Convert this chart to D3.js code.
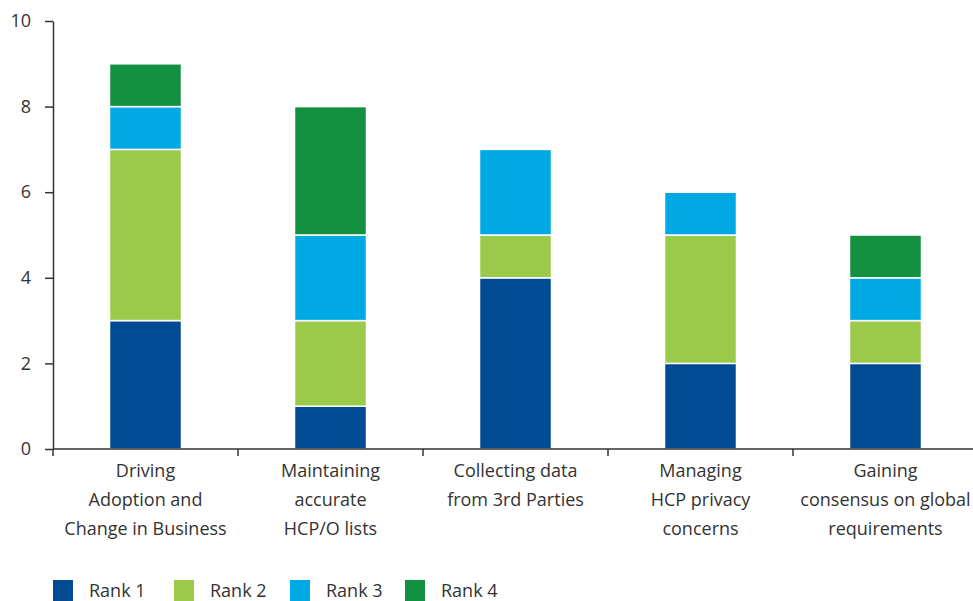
<!DOCTYPE html>
<html><head><meta charset="utf-8">
<script src="https://cdn.jsdelivr.net/npm/d3@7"></script>
<style>body{margin:0;background:#fff}svg{display:block}text{font-family:"Open Sans",sans-serif;fill:#333}</style>
</head><body><svg id="c" width="973" height="601"></svg>
<script>
const categories = [
  ["Driving","Adoption and","Change in Business"],
  ["Maintaining","accurate","HCP/O lists"],
  ["Collecting data","from 3rd Parties"],
  ["Managing","HCP privacy","concerns"],
  ["Gaining","consensus on global","requirements"]
];
const seriesNames = ["Rank 1","Rank 2","Rank 3","Rank 4"];
const rank1 = [3,1,4,2,2];
const rank2 = [4,2,1,3,1];
const rank3 = [1,2,2,1,1];
const rank4 = [1,3,0,0,1];
const colors = ["#004b93","#9bca4a","#00a9e4","#139140"];
const yTicks = [0,2,4,6,8,10];

(function(){
const svg = d3.select("#c");
const mLeft = 53, mBottom = 449, mTop = 21;
const x = d3.scaleBand().domain(d3.range(categories.length)).range([mLeft, mLeft + 185*5]).padding(0);
const y = d3.scaleLinear().domain([0,10]).range([mBottom, mTop]);

const rows = categories.map((c,i)=>({i, "Rank 1":rank1[i],"Rank 2":rank2[i],"Rank 3":rank3[i],"Rank 4":rank4[i]}));
const stack = d3.stack().keys(seriesNames)(rows);
const bw = 72;

svg.append("g").selectAll("g").data(stack).join("g")
  .attr("fill",(d,k)=>colors[k])
  .selectAll("rect").data(d=>d.filter(p=>p[1]-p[0]>0)).join("rect")
  .attr("x",d=>x(d.data.i)+x.bandwidth()/2-bw/2)
  .attr("width",bw)
  .attr("y",d=>y(d[1]))
  .attr("height",d=>y(d[0])-y(d[1]))
  .attr("stroke","#fff").attr("stroke-width",1.5);

// y axis
const ya = svg.append("g").attr("transform",`translate(${mLeft},0)`)
  .call(d3.axisLeft(y).tickValues(yTicks).tickSize(8).tickSizeOuter(0).tickFormat(d3.format("d")));
ya.select(".domain").attr("stroke","#333").attr("stroke-width",1.5);
ya.selectAll(".tick line").attr("stroke","#333").attr("stroke-width",1.5);
ya.selectAll(".tick text").attr("x",-22).attr("font-size",18).attr("fill","#333").attr("font-family","'Open Sans',sans-serif");

// x axis
svg.append("line").attr("x1",mLeft).attr("x2",973).attr("y1",mBottom).attr("y2",mBottom).attr("stroke","#333").attr("stroke-width",1.5);
svg.append("g").selectAll("line").data(d3.range(categories.length+1)).join("line")
  .attr("x1",i=>i<categories.length? x(i): x(i-1)+x.bandwidth())
  .attr("x2",i=>i<categories.length? x(i): x(i-1)+x.bandwidth())
  .attr("y1",mBottom).attr("y2",mBottom+7).attr("stroke","#333").attr("stroke-width",1.5);

const lab = svg.append("g").selectAll("text").data(categories).join("text")
  .attr("text-anchor","middle").attr("font-size",18)
  .attr("transform",(d,i)=>`translate(${x(i)+x.bandwidth()/2},${mBottom+28})`);
lab.selectAll("tspan").data(d=>d).join("tspan").attr("x",0).attr("dy",(d,j)=>j===0?0:29).text(d=>d);

// legend
const legX = [53,174,290,405];
const lg = svg.append("g").selectAll("g").data(seriesNames).join("g")
  .attr("transform",(d,k)=>`translate(${legX[k]},580)`);
lg.append("rect").attr("width",20).attr("height",21).attr("fill",(d,k)=>colors[k]);
lg.append("text").attr("x",36).attr("y",17).attr("font-size",18).text(d=>d);
})();
</script></body></html>
